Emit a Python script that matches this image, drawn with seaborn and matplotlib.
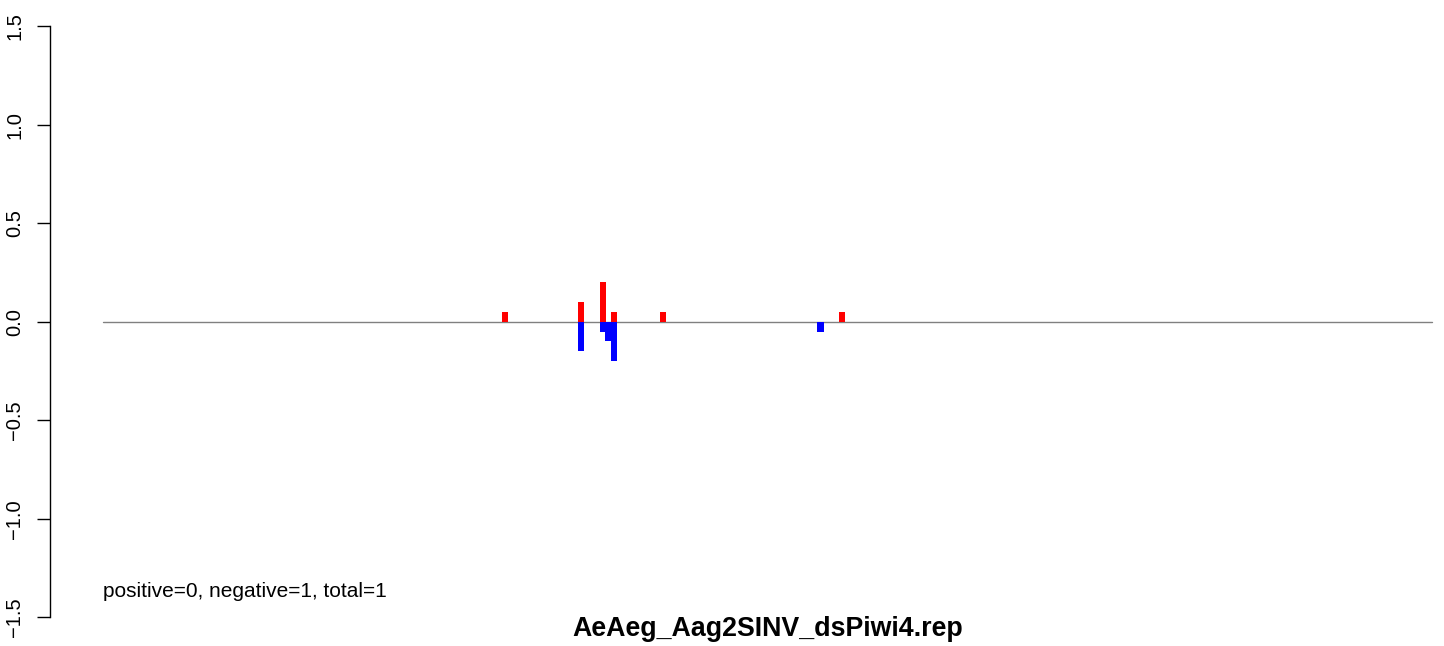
import matplotlib
matplotlib.use("Agg")
import matplotlib.pyplot as plt
import numpy as np
import pandas as pd
import seaborn as sns

# Values
positions = [74, 88, 88, 92, 92, 93, 94, 94, 103, 132, 136]
values = [0.05, 0.10, -0.15, 0.20, -0.05, -0.10, 0.05, -0.20, 0.05, -0.05, 0.05]
strand = ["+", "+", "-", "+", "-", "-", "+", "-", "+", "-", "+"]
line_start, line_end = 0, 244.5
y_ticks = [-1.5, -1.0, -0.5, 0.0, 0.5, 1.0, 1.5]
summary = "positive=0, negative=1, total=1"
title = "AeAeg_Aag2SINV_dsPiwi4.rep"

df = pd.DataFrame({"pos": positions, "val": values, "strand": strand})

sns.set_style("white")
plt.rcParams["font.family"] = ["Liberation Sans", "DejaVu Sans"]
plt.rcParams["text.color"] = "black"
plt.rcParams["ytick.labelcolor"] = "black"

W, H = 1444, 646
fig = plt.figure(figsize=(W / 100, H / 100), dpi=100)
# plot region in pixels: x 50..1444, y 2.4..640.6
ax = fig.add_axes([50 / W, (H - 641) / H, (W - 50) / W, (641 - 2.4) / H])

sns.barplot(data=df, x="pos", y="val", hue="strand",
            palette={"+": "red", "-": "blue"}, native_scale=True,
            dodge=False, width=1.15, errorbar=None, saturation=1,
            linewidth=0, legend=False, ax=ax)

ax.plot([line_start, line_end], [0, 0], color="gray", lw=1, zorder=0)

ax.set_xlim((50 - 103) / 5.435, (W - 103) / 5.435)
ax.set_ylim(-1.62, 1.62)

for s in ["top", "right", "bottom"]:
    ax.spines[s].set_visible(False)
ax.spines["left"].set_bounds(-1.5, 1.5)
ax.spines["left"].set_linewidth(1.0)
ax.spines["left"].set_color("black")
ax.set_xticks([])
ax.set_yticks(y_ticks)
ax.set_yticklabels([f"{t:.1f}".replace("-", "\u2212") for t in y_ticks],
                   rotation=90, va="center", fontsize=14.5, color="black")
ax.tick_params(axis="y", left=True, length=9.4, width=1.0, pad=9, color="black")
ax.set_xlabel("")
ax.set_ylabel("")

ax.text(line_start, -1.395, summary, fontsize=15, ha="left", va="baseline",
        color="black")
fig.text(767.5 / W, 1 - 636 / H, title, fontsize=19.3, fontweight="bold",
         ha="center", va="baseline", color="black")

fig.savefig("out.png", dpi=100)
